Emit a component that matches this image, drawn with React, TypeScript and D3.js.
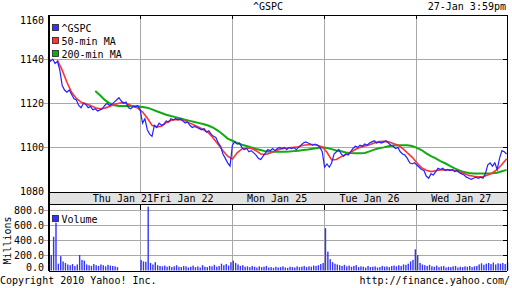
import React from "react";
import * as d3 from "d3";

// ---------- data ----------
const title = "^GSPC";
const stamp = "27-Jan 3:59pm";
const dayLabels = ["Thu Jan 21", "Fri Jan 22", "Mon Jan 25", "Tue Jan 26", "Wed Jan 27"];
const dayLabelAt = [31.7, 57.3, 96.9, 136, 174.8]; // in bar-index units
const dayStarts = [0, 39, 78, 117, 156];
const totalBars = 195;
const priceTicks = [1080, 1100, 1120, 1140, 1160];
const priceGrid = [1100, 1120, 1140];
const volumeTicks = [0, 200, 400, 600, 800];
const volumeGrid = [200, 400, 600, 800];

const gspc = [
  // Thu
  1141, 1139, 1140, 1138, 1139, 1135, 1128, 1126, 1125, 1126, 1124, 1122, 1121.5, 1119, 1118, 1120, 1119.5, 1118, 1118.5, 1117,
  1117.5, 1116.5, 1117, 1117.5, 1119, 1120, 1119, 1119.5, 1120.5, 1121.5, 1122.5, 1121, 1120, 1120.5, 1118, 1117.5, 1118.5, 1118.5, 1119,
  // Fri
  1117, 1111, 1113, 1108, 1106, 1105, 1110, 1109, 1111, 1110, 1110.5, 1112, 1111.5, 1113, 1112.5, 1113, 1112.5, 1113, 1112, 1111,
  1111.5, 1110, 1109, 1109.5, 1109, 1108.5, 1108, 1108.5, 1107, 1107.5, 1106, 1105, 1104.5, 1102, 1100.5, 1097, 1095, 1093, 1091.5,
  // Mon
  1101, 1102.5, 1101.5, 1102, 1100, 1099, 1099.5, 1098, 1098.5, 1097.5, 1096.5, 1095, 1094.5, 1096, 1097.5, 1099, 1098.5, 1099.5, 1098.5, 1099.5,
  1100, 1099.5, 1100, 1099, 1100, 1099.5, 1100, 1099, 1100, 1101, 1102, 1102.5, 1102, 1101.5, 1101, 1101.5, 1101, 1100, 1098,
  // Tue
  1091, 1092.5, 1091, 1093, 1097, 1098, 1099, 1097, 1096, 1097, 1096.5, 1098, 1099.5, 1100.5, 1100, 1101, 1100.5, 1101.5, 1101, 1102,
  1102.5, 1103, 1102, 1102.5, 1102, 1102.5, 1103, 1102, 1101, 1100.5, 1099.5, 1100, 1098, 1097, 1096.5, 1095, 1093, 1092.5, 1093,
  // Wed
  1092, 1091, 1090, 1089.5, 1087, 1086, 1088, 1087.5, 1089, 1090.5, 1090, 1090.5, 1089.5, 1090, 1089.5, 1090, 1089, 1089.5, 1088.5, 1088,
  1087.5, 1086.5, 1086, 1085.5, 1086, 1086.5, 1086, 1086.5, 1086, 1088, 1092, 1093, 1091.5, 1093, 1090, 1095, 1098.5, 1098, 1097,
];

const ma50Start = 4;
const ma50Step = 2;
const ma50 = [
  1139.5, 1135, 1129.5, 1125, 1122.2, 1120.5, 1119.8, 1119, 1118, 1117.5, 1117.8, 1118.5, 1119.5, 1120, 1120.3, 1119.5, 1118.5, 1117.8,
  1116, 1113.3, 1110, 1109.3, 1109.6, 1111.2, 1112.2, 1112.7, 1112.5, 1112, 1111, 1110, 1109, 1107.8, 1106.5, 1104, 1101.3, 1098.5, 1096,
  1094.6, 1097.5, 1099.3, 1099.6, 1099.6, 1098.5, 1097, 1096.8, 1097.5, 1098.3, 1099.2, 1099.6, 1099.8, 1100, 1100.3, 1101, 1101.2, 1101.3, 1101, 1100.2,
  1097.8, 1094.3, 1094.5, 1095.8, 1096.8, 1097.8, 1099, 1100, 1100.6, 1101.2, 1102, 1102.6, 1102.7, 1102.5, 1101.8, 1101, 1099.5, 1097.5, 1095.6,
  1093, 1090.8, 1089.6, 1089, 1089.4, 1089.8, 1089.8, 1089.8, 1089.5, 1089, 1088.2, 1087.3, 1086.9, 1086.7, 1086.7, 1087.5, 1088.4, 1090, 1092.2, 1094.8,
];

const ma200Start = 20;
const ma200Step = 2;
const ma200 = [
  1125.5, 1123.6, 1121.5, 1120, 1119.1, 1118.8, 1118.8, 1118.8, 1118.7, 1118.5,
  1118.3, 1118, 1117.2, 1116.4, 1115.6, 1114.8, 1114.2, 1113.7, 1113.1, 1112.5, 1112, 1111.5, 1111, 1110.5, 1109.8, 1108.8, 1107.5, 1105.8, 1104,
  1103, 1102, 1101.2, 1100.6, 1100, 1099.3, 1098.8, 1098.2, 1098, 1098, 1098, 1098, 1098.1, 1098.3, 1098.5, 1098.8, 1099, 1099.4, 1099.7, 1100,
  1099.7, 1099.2, 1098.6, 1098.2, 1097.7, 1097.4, 1097.3, 1097.3, 1097.5, 1098.2, 1099, 1099.6, 1100, 1100.5, 1100.8, 1101, 1101, 1101, 1100.6,
  1099.8, 1098.8, 1097.3, 1096, 1095, 1093.8, 1092.8, 1091.6, 1090.5, 1089.6, 1088.8, 1088.4, 1088.2, 1088.2, 1088.2, 1088.2, 1088.3, 1088.5, 1089.2, 1089.8,
];

const volume = [
  // Thu
  205, 205, 447, 632, 90, 190, 120, 100, 80, 70, 85, 60, 80, 205, 140, 130, 80, 70, 60, 85,
  70, 60, 80, 70, 55, 75, 65, 60, 55, 45, 0, 0, 0, 0, 0, 0, 0, 0, 0,
  // Fri
  140, 120, 115, 845, 100, 80, 110, 70, 60, 55, 65, 50, 60, 45, 55, 70, 50, 45, 60, 55,
  40, 50, 65, 45, 55, 40, 70, 50, 45, 60, 55, 75, 50, 60, 90, 70, 85, 65, 110,
  // Mon
  130, 100, 80, 60, 70, 50, 55, 45, 60, 50, 40, 55, 45, 50, 60, 40, 45, 35, 50, 40,
  45, 55, 40, 35, 50, 45, 40, 55, 45, 50, 60, 45, 55, 50, 65, 60, 70, 85, 100,
  // Tue
  560, 250, 150, 110, 90, 80, 70, 60, 75, 55, 65, 50, 60, 70, 45, 55, 50, 40, 60, 45,
  50, 55, 40, 45, 60, 50, 55, 45, 60, 65, 55, 70, 60, 80, 75, 90, 120, 140, 280,
  // Wed
  205, 100, 80, 70, 60, 75, 55, 50, 65, 45, 55, 60, 40, 50, 45, 55, 60, 40, 50, 45,
  55, 50, 60, 45, 55, 60, 80, 95, 75, 90, 100, 85, 105, 80, 95, 90, 100, 85, 105,
];

const legend = [
  { label: "^GSPC", color: "#3333ff" },
  { label: "50-min MA", color: "#ff3333" },
  { label: "200-min MA", color: "#11aa11" },
];

// ---------- layout ----------
const W = 512;
const H = 288;
const FONT = "'DejaVu Sans Mono', monospace";
const plotL = 49;
const plotR = 507;
const plotT = 15;
const plotB = 192;
const bandB = 204;
const volB = 271;
const GRID = "#a8a8a8";

export default function App() {
  const x = d3.scaleLinear().domain([0, totalBars]).range([48, 509]);
  const yP = d3.scaleLinear().domain([1080, 1160]).range([191.5, 15]);
  const yV = d3.scaleLinear().domain([0, 800]).range([270.5, 210]);

  const priceLine = d3
    .line<number>()
    .x((_, i) => x(i))
    .y((d) => yP(d));
  const ma50Line = d3
    .line<number>()
    .x((_, i) => x(ma50Start + i * ma50Step))
    .y((d) => yP(d));
  const ma200Line = d3
    .line<number>()
    .x((_, i) => x(ma200Start + i * ma200Step))
    .y((d) => yP(d));

  const boundaries = dayStarts.slice(1);

  return (
    <div style={{ position: "fixed", left: 0, top: 0, background: "#fff" }}>
      <svg width={W} height={H} style={{ display: "block" }} fontFamily={FONT} fontSize={10}>
        <rect x={0} y={0} width={W} height={H} fill="#fff" />

        {/* header */}
        <text x={268} y={9.5} textAnchor="middle" fill="#000">{title}</text>
        <text x={506} y={10} textAnchor="end" fill="#000">{stamp}</text>

        {/* main grid */}
        <g shapeRendering="crispEdges">
          {priceGrid.map((v) => (
            <line key={"pg" + v} x1={44} x2={plotR} y1={yP(v)} y2={yP(v)} stroke={GRID} />
          ))}
          {boundaries.map((b) => (
            <line key={"vg" + b} x1={x(b)} x2={x(b)} y1={plotT} y2={plotB} stroke={GRID} />
          ))}
          {boundaries.map((b) => (
            <line key={"vt" + b} x1={x(b)} x2={x(b)} y1={plotT} y2={plotT + 4} stroke="#000" />
          ))}
          {priceGrid.map((v) => (
            <line key={"rt" + v} x1={plotR - 4} x2={plotR} y1={yP(v)} y2={yP(v)} stroke="#000" />
          ))}
          <line x1={plotL} x2={plotR} y1={plotT} y2={plotT} stroke="#000" />
        </g>

        {/* price labels */}
        {priceTicks.map((v) => (
          <text key={"pl" + v} x={44} y={Math.max(yP(v), plotT + 5) + 3.5} textAnchor="end" fill="#000">
            {v}
          </text>
        ))}

        {/* series */}
        <path d={ma200Line(ma200) || ""} fill="none" stroke="#11aa11" strokeWidth={2} />
        <path d={ma50Line(ma50) || ""} fill="none" stroke="#ff3333" strokeWidth={1.6} />
        <path d={priceLine(gspc) || ""} fill="none" stroke="#2222ff" strokeWidth={1.2} />

        {/* legend */}
        {legend.map((l, i) => (
          <g key={l.label}>
            <rect x={52.5} y={24.5 + i * 13} width={6} height={6} fill={l.color} stroke="#222" strokeWidth={0.8} />
            <text x={61.5} y={31.5 + i * 13} fill="#000">{l.label}</text>
          </g>
        ))}

        {/* date band */}
        <rect x={48.5} y={plotB + 0.5} width={459} height={bandB - plotB} fill="#e2e2e2" stroke="#000" shapeRendering="crispEdges" />
        {dayLabels.map((d, i) => (
          <text key={d} x={x(dayLabelAt[i])} y={202} textAnchor="middle" fill="#000">
            {d}
          </text>
        ))}

        {/* volume grid */}
        <g shapeRendering="crispEdges">
          {volumeGrid.map((v) => (
            <line key={"vgl" + v} x1={44} x2={plotR} y1={yV(v)} y2={yV(v)} stroke={GRID} />
          ))}
          {boundaries.map((b) => (
            <line key={"vvg" + b} x1={x(b)} x2={x(b)} y1={bandB} y2={volB} stroke={GRID} />
          ))}
          {boundaries.map((b) => (
            <line key={"vvt" + b} x1={x(b)} x2={x(b)} y1={bandB} y2={bandB + 6} stroke="#000" />
          ))}
          {volumeGrid.map((v) => (
            <line key={"vrt" + v} x1={plotR - 4} x2={plotR} y1={yV(v)} y2={yV(v)} stroke="#000" />
          ))}
        </g>

        {/* volume bars */}
        {volume.map((v, i) =>
          v > 0 ? (
            <rect key={"vb" + i} x={x(i) + 0.2} y={yV(v)} width={1.4} height={yV(0) - yV(v)} fill="#3333ff" />
          ) : null
        )}

        {/* volume labels */}
        {volumeTicks.map((v) => (
          <text key={"vl" + v} x={44} y={Math.min(yV(v), 267) + 3.5} textAnchor="end" fill="#000">
            {v.toFixed(1)}
          </text>
        ))}
        <text transform="translate(11,240.5) rotate(-90)" textAnchor="middle" fill="#000">Millions</text>
        <rect x={52.5} y={215.5} width={6} height={6} fill="#3333ff" stroke="#222" strokeWidth={0.8} />
        <text x={61.5} y={222.5} fill="#000">Volume</text>

        {/* frame */}
        <g shapeRendering="crispEdges">
          <line x1={48.5} x2={48.5} y1={plotT} y2={volB} stroke="#000" strokeWidth={2} />
          <line x1={plotR + 0.5} x2={plotR + 0.5} y1={plotT} y2={volB} stroke="#000" />
          <line x1={plotL} x2={plotR} y1={volB} y2={volB} stroke="#000" />
        </g>

        {/* footer */}
        <text x={0} y={283.5} fill="#000">Copyright 2010 Yahoo! Inc.</text>
        <text x={510} y={284} textAnchor="end" fill="#000">http://finance.yahoo.com/</text>
      </svg>
    </div>
  );
}
